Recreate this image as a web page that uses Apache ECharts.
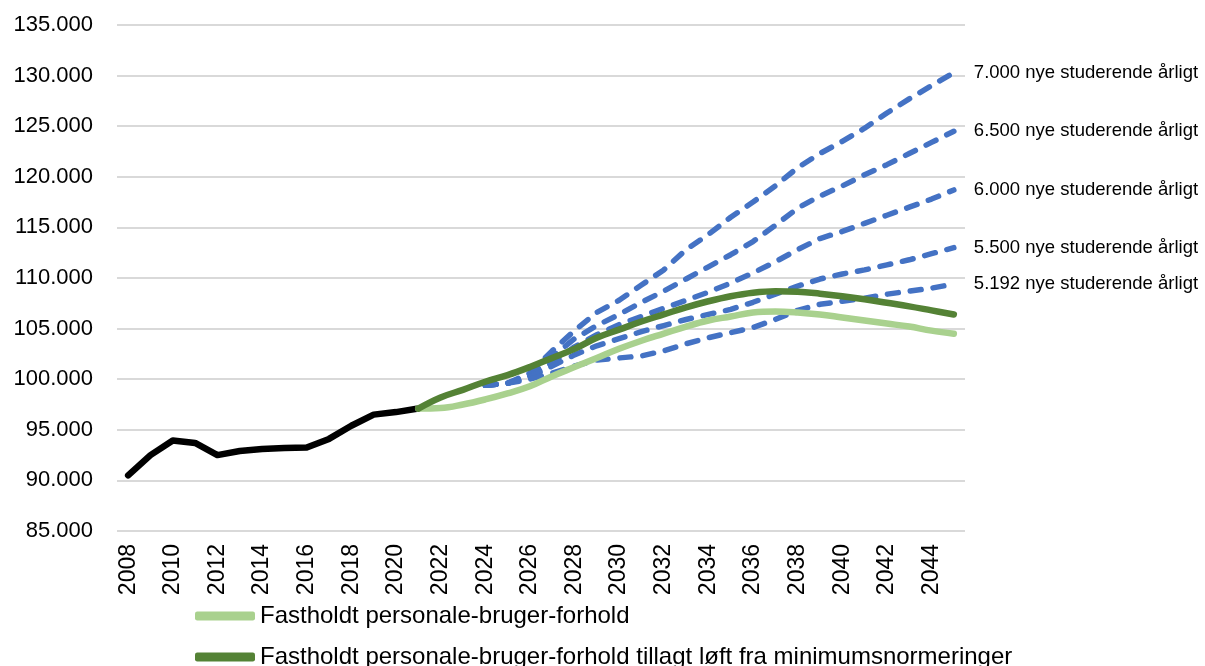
<!DOCTYPE html>
<html>
<head>
<meta charset="utf-8">
<script src="https://cdn.jsdelivr.net/npm/echarts@6/dist/echarts.min.js"></script>
<style>
html,body{margin:0;padding:0;background:#fff;}
#chart{width:1205px;height:666px;}
</style>
</head>
<body>
<div id="chart"></div>
<script>
const years = ['2008','2009','2010','2011','2012','2013','2014','2015','2016','2017','2018','2019','2020','2021','2022','2023','2024','2025','2026','2027','2028','2029','2030','2031','2032','2033','2034','2035','2036','2037','2038','2039','2040','2041','2042','2043','2044','2045'];

// historical (2008-2021)
const history = [90500, 92500, 93950, 93700, 92500, 92900, 93100, 93200, 93250, 94100, 95400, 96500, 96750, 97100];

// 2021-2045
const lightGreen = [97100, 97150, 97500, 98000, 98600, 99300, 100300, 101200, 102100, 103000, 103800, 104500, 105200, 105800, 106200, 106600, 106700, 106600, 106400, 106100, 105800, 105500, 105200, 104800, 104500];
const darkGreen = [97100, 98200, 98950, 99750, 100400, 101200, 102100, 103000, 104100, 104900, 105700, 106400, 107100, 107700, 108200, 108550, 108700, 108650, 108450, 108200, 107900, 107550, 107200, 106800, 106400];

// scenarios 2024-2045
const s7000 = [99400, 99600, 100600, 102800, 104800, 106600, 107800, 109300, 110800, 112800, 114300, 116000, 117500, 119100, 120900, 122300, 123500, 124800, 126300, 127700, 129000, 130300];
const s6500 = [99400, 99600, 100400, 102200, 104000, 105300, 106400, 107600, 108700, 109900, 111100, 112300, 113600, 115200, 116900, 118100, 119100, 120200, 121200, 122300, 123400, 124500];
const s6000 = [99400, 99600, 100300, 101600, 103200, 104400, 105400, 106200, 107000, 107800, 108600, 109500, 110500, 111600, 112800, 113900, 114600, 115400, 116200, 117000, 117800, 118700];
const s5500 = [99400, 99600, 100200, 101300, 102400, 103300, 104000, 104700, 105300, 105900, 106400, 106900, 107600, 108400, 109200, 109900, 110400, 110800, 111300, 111800, 112400, 113000];
const s5192 = [99400, 99600, 100000, 100600, 101300, 101900, 102100, 102300, 102800, 103500, 104100, 104600, 105100, 105900, 106800, 107400, 107700, 108000, 108400, 108700, 109000, 109400];

const scenarioNames = ['7.000 nye studerende årligt','6.500 nye studerende årligt','6.000 nye studerende årligt','5.500 nye studerende årligt','5.192 nye studerende årligt'];
const legendNames = ['Fastholdt personale-bruger-forhold','Fastholdt personale-bruger-forhold tillagt løft fra minimumsnormeringer'];

function pad(startYear, vals) {
  const out = years.map(() => null);
  const i0 = years.indexOf(String(startYear));
  vals.forEach((v, k) => { out[i0 + k] = v; });
  return out;
}
function fmt(v) { return String(v).replace(/\B(?=(\d{3})+(?!\d))/g, '.'); }

const FONT = 'Liberation Sans, Arial, sans-serif';
const blue = '#4472C4';

const scen = [s7000, s6500, s6000, s5500, s5192].map((arr, i) => ({
  name: scenarioNames[i],
  type: 'line',
  data: pad(2024, arr),
  showSymbol: false,
  symbol: 'none',
  z: 2,
  lineStyle: { color: blue, width: 5.5, type: [11, 12], cap: 'round' },
  itemStyle: { color: blue },
  endLabel: { show: true, formatter: '{a}', color: '#000', fontSize: 18.5, fontFamily: FONT, distance: 20 }
}));

const legendBase = {
  orient: 'horizontal',
  left: 195,
  padding: 0,
  itemWidth: 60,
  itemHeight: 9,
  icon: 'roundRect',
  textStyle: { color: '#000', fontSize: 24, fontFamily: FONT },
  itemStyle: { borderWidth: 0 }
};

const chart = echarts.init(document.getElementById('chart'), null, { renderer: 'canvas' });
chart.setOption({
  animation: false,
  backgroundColor: '#fff',
  grid: { left: 117, right: 240, top: 25, bottom: 135, containLabel: false },
  legend: [
    Object.assign({}, legendBase, { data: [legendNames[0]], top: 604 }),
    Object.assign({}, legendBase, { data: [legendNames[1]], top: 645 })
  ],
  xAxis: {
    type: 'category',
    data: years,
    boundaryGap: true,
    axisLine: { show: false },
    axisTick: { show: false },
    axisLabel: { interval: 1, rotate: 90, color: '#000', fontSize: 23, fontFamily: FONT, margin: 13 }
  },
  yAxis: {
    type: 'value',
    min: 85000,
    max: 135000,
    interval: 5000,
    axisLine: { show: false },
    axisTick: { show: false },
    splitLine: { lineStyle: { color: '#d9d9d9', width: 2 } },
    axisLabel: { formatter: fmt, color: '#000', fontSize: 22, fontFamily: FONT, margin: 24 }
  },
  series: [
    {
      name: 'Historisk',
      type: 'line',
      data: pad(2008, history),
      showSymbol: false, symbol: 'none',
      z: 3,
      lineStyle: { color: '#000', width: 6.5, cap: 'round', join: 'round' },
      itemStyle: { color: '#000' }
    },
    ...scen,
    {
      name: legendNames[0],
      type: 'line',
      data: pad(2021, lightGreen),
      smooth: 0.4,
      showSymbol: false, symbol: 'none',
      z: 4,
      lineStyle: { color: '#A9D18E', width: 6.5, cap: 'round' },
      itemStyle: { color: '#A9D18E' }
    },
    {
      name: legendNames[1],
      type: 'line',
      data: pad(2021, darkGreen),
      smooth: 0.4,
      showSymbol: false, symbol: 'none',
      z: 5,
      lineStyle: { color: '#548235', width: 6.5, cap: 'round' },
      itemStyle: { color: '#548235' }
    }
  ]
});
</script>
</body>
</html>
